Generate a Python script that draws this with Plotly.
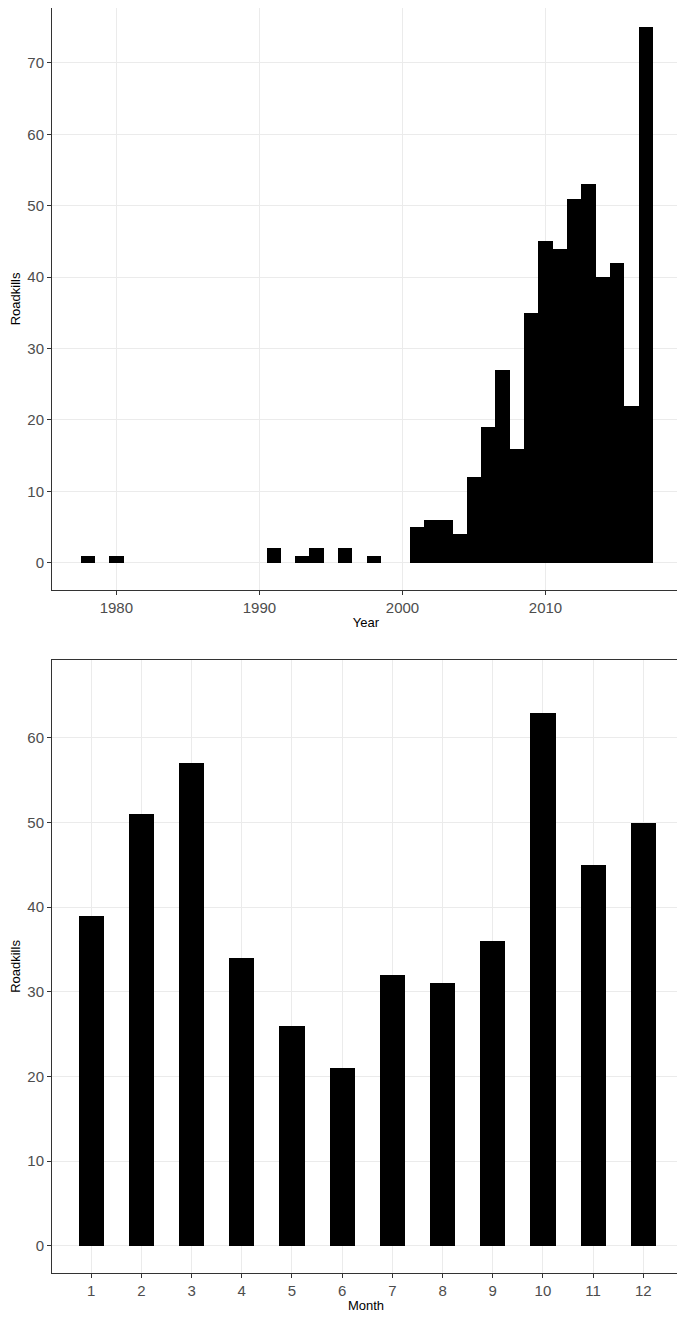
import plotly.graph_objects as go

years = [1978, 1980, 1991, 1993, 1994, 1996, 1998, 2001, 2002, 2003, 2004, 2005, 2006,
         2007, 2008, 2009, 2010, 2011, 2012, 2013, 2014, 2015, 2016, 2017]
year_counts = [1, 1, 2, 1, 2, 2, 1, 5, 6, 6, 4, 12, 19, 27, 16, 35, 45, 44, 51, 53, 40, 42, 22, 75]
months = [1, 2, 3, 4, 5, 6, 7, 8, 9, 10, 11, 12]
month_counts = [39, 51, 57, 34, 26, 21, 32, 31, 36, 63, 45, 50]

fig = go.Figure()
fig.add_trace(go.Bar(x=years, y=year_counts, width=1.0, marker=dict(color="black", line=dict(width=0)),
                     xaxis="x", yaxis="y"))
fig.add_trace(go.Bar(x=months, y=month_counts, width=0.5, marker=dict(color="black", line=dict(width=0)),
                     xaxis="x2", yaxis="y2"))

ax = dict(showgrid=True, gridcolor="#ebebeb", gridwidth=1, zeroline=False, showline=True,
          linecolor="#333333", linewidth=1, mirror=True, ticks="outside", ticklen=4,
          tickcolor="#333333", tickfont=dict(size=15, color="#4d4d4d", family="Liberation Sans"))
tf = dict(size=13, color="black", family="Liberation Sans")

fig.update_layout(
    width=677, height=1312, margin=dict(l=44, r=5, t=0, b=47),
    plot_bgcolor="white", paper_bgcolor="white", showlegend=False, bargap=0,
    xaxis=dict(ax, domain=[0, 1], range=[1975.5, 2019.4], tickvals=[1980, 1990, 2000, 2010],
               anchor="y", title=dict(text="Year", font=tf, standoff=2)),
    yaxis=dict(ax, domain=[0.540, 1], range=[-3.8, 77.7], dtick=10, anchor="x",
               title=dict(text="Roadkills", font=tf, standoff=4)),
    xaxis2=dict(ax, domain=[0, 1], range=[0.22, 12.73], tickvals=months, anchor="y2",
                title=dict(text="Month", font=tf, standoff=2)),
    yaxis2=dict(ax, domain=[0, 0.4846], range=[-3.2, 69.2], dtick=10, anchor="x2",
                title=dict(text="Roadkills", font=tf, standoff=4)),
)
fig.write_html("out.html")
